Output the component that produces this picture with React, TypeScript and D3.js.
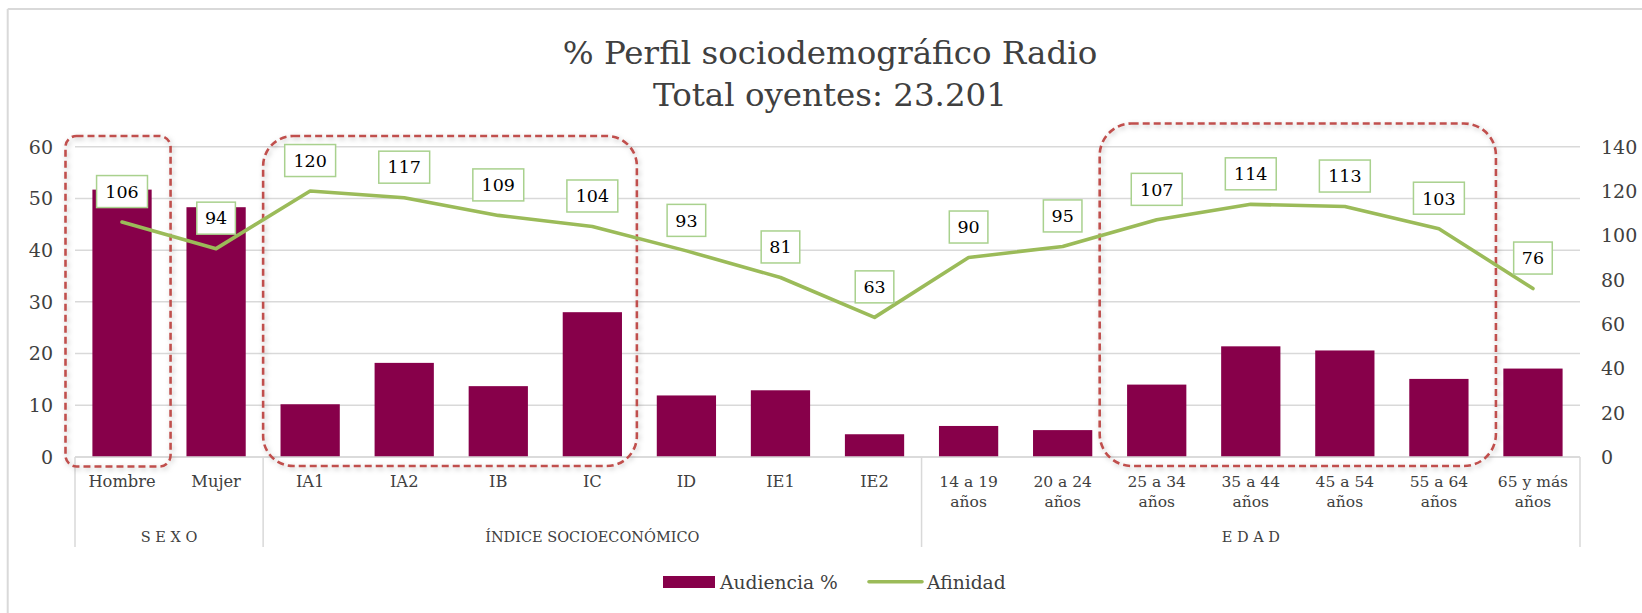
import React from "react";
import * as d3 from "d3";

const categories: string[][] = [
  ["Hombre"], ["Mujer"],
  ["IA1"], ["IA2"], ["IB"], ["IC"], ["ID"], ["IE1"], ["IE2"],
  ["14 a 19", "años"], ["20 a 24", "años"], ["25 a 34", "años"], ["35 a 44", "años"],
  ["45 a 54", "años"], ["55 a 64", "años"], ["65 y más", "años"],
];
const groupNames = ["S E X O", "ÍNDICE SOCIOECONÓMICO", "E D A D"];
const groupSizes = [2, 7, 7];
const audiencia = [51.7, 48.3, 10.2, 18.2, 13.7, 28.0, 11.9, 12.9, 4.4, 6.0, 5.2, 14.0, 21.4, 20.6, 15.1, 17.1];
const afinidad = [106, 94, 120, 117, 109, 104, 93, 81, 63, 90, 95, 107, 114, 113, 103, 76];
const leftTicks = [0, 10, 20, 30, 40, 50, 60];
const rightTicks = [0, 20, 40, 60, 80, 100, 120, 140];
const titleLines = ["% Perfil sociodemográfico Radio", "Total oyentes: 23.201"];
const seriesNames = ["Audiencia %", "Afinidad"];
// highlighted category ranges (first, last index)
const highlightRanges = [[0, 0], [2, 5], [11, 14]];

const FONT = "'DejaVu Serif', 'Liberation Serif', serif";
const BAR = "#87004A";
const LINE = "#9BBB59";
const GRID = "#D9D9D9";
const TXT = "#404040";

export default function App() {
  const W = 1642, H = 613;
  const x = d3.scaleBand<number>().domain(d3.range(categories.length)).range([75, 1580]).padding(0);
  const yL = d3.scaleLinear().domain([0, 60]).range([457, 146.7]);
  const yR = d3.scaleLinear().domain([0, 140]).range([457, 146.7]);
  const bw = x.bandwidth();
  const barW = bw * 0.63;
  const cx = (i: number) => (x(i) as number) + bw / 2;

  const line = d3.line<number>().x((_, i) => cx(i)).y((d) => yR(d));

  // group boundaries
  const bounds: number[] = [0];
  groupSizes.forEach((s, i) => bounds.push(bounds[i] + s));

  // highlight box geometry tweaks (style only)
  const boxStyle = [
    { padL: 9.5, padR: 1.5, top: 136, bottom: 466.5, r: 11 },
    { padL: 0, padR: -2.5, top: 136, bottom: 466, r: 30 },
    { padL: 10, padR: 10, top: 123.5, bottom: 466, r: 32 },
  ];

  return (
    <svg width={W} height={H} style={{ position: "absolute", left: 0, top: 0, background: "#fff" }} fontFamily={FONT}>
      <defs>
        <filter id="sh" x="-10%" y="-10%" width="120%" height="120%">
          <feDropShadow dx="1.5" dy="2" stdDeviation="2.5" floodColor="#000" floodOpacity="0.25" />
        </filter>
      </defs>
      <rect x={0} y={0} width={W} height={H} fill="#fff" />
      {/* chart border */}
      <line x1={7.7} y1={9} x2={W} y2={9} stroke={GRID} strokeWidth={2} />
      <line x1={7.7} y1={9} x2={7.7} y2={H} stroke={GRID} strokeWidth={2} />

      {/* title */}
      {titleLines.map((t, i) => (
        <text key={i} x={830} y={64 + i * 42} textAnchor="middle" fontSize={32.5} fill={TXT}>{t}</text>
      ))}

      {/* gridlines */}
      {leftTicks.map((t) => (
        <line key={t} x1={75} x2={1580} y1={yL(t)} y2={yL(t)} stroke={GRID} strokeWidth={1.5} />
      ))}

      {/* left ticks */}
      {leftTicks.map((t) => (
        <text key={t} x={53} y={yL(t)} dy="0.36em" textAnchor="end" fontSize={19} fill={TXT}>{t}</text>
      ))}
      {/* right ticks */}
      {rightTicks.map((t) => (
        <text key={t} x={1601} y={yR(t)} dy="0.36em" textAnchor="start" fontSize={19} fill={TXT}>{t}</text>
      ))}

      {/* bars */}
      {audiencia.map((v, i) => (
        <rect key={i} x={cx(i) - barW / 2} y={yL(v)} width={barW} height={yL(0) - yL(v)} fill={BAR} />
      ))}

      {/* category axis */}
      <line x1={75} x2={1580} y1={457} y2={457} stroke={GRID} strokeWidth={1.5} />
      {bounds.map((b, i) => {
        const bx = b < categories.length ? (x(b) as number) : 1580;
        return <line key={i} x1={bx} x2={bx} y1={457} y2={547} stroke={GRID} strokeWidth={1.5} />;
      })}
      {categories.map((lines, i) => (
        <text key={i} x={cx(i)} y={487} textAnchor="middle" fontSize={lines.length > 1 ? 15.5 : 16.3} fill={TXT}>
          {lines.map((l, j) => (
            <tspan key={j} x={cx(i)} dy={j === 0 ? 0 : 20}>{l}</tspan>
          ))}
        </text>
      ))}
      {groupNames.map((g, i) => {
        const x0 = x(bounds[i]) as number;
        const x1 = bounds[i + 1] < categories.length ? (x(bounds[i + 1]) as number) : 1580;
        return (
          <text key={i} x={(x0 + x1) / 2} y={542} textAnchor="middle" fontSize={14.5} fill={TXT}>{g}</text>
        );
      })}

      {/* highlight boxes */}
      {highlightRanges.map(([a, b], i) => {
        const s = boxStyle[i];
        const x0 = (x(a) as number) - s.padL;
        const x1 = (x(b) as number) + bw + s.padR;
        return (
          <rect key={i} x={x0} y={s.top} width={x1 - x0} height={s.bottom - s.top} rx={s.r} ry={s.r}
            fill="none" stroke="#C0504D" strokeWidth={2.6} strokeDasharray="7 4" filter="url(#sh)" />
        );
      })}

      {/* affinity line */}
      <path d={line(afinidad) || ""} fill="none" stroke={LINE} strokeWidth={3.6} strokeLinejoin="round" strokeLinecap="round" />

      {/* data labels */}
      {afinidad.map((v, i) => {
        const s = String(v);
        const w = 14 + s.length * 12.3;
        const py = yR(v);
        const bh = 32;
        const by = py - 14.5 - bh;
        return (
          <g key={i}>
            <rect x={cx(i) - w / 2} y={by} width={w} height={bh} fill="#fff" stroke="#A9D18E" strokeWidth={1.5} />
            <text x={cx(i)} y={by + bh / 2} dy="0.36em" textAnchor="middle" fontSize={17.5} fill="#000">{s}</text>
          </g>
        );
      })}

      {/* legend */}
      <rect x={663} y={576} width={52} height={12} fill={BAR} />
      <text x={720} y={588.5} fontSize={18.7} fill={TXT}>{seriesNames[0]}</text>
      <line x1={869} x2={922} y1={581.7} y2={581.7} stroke={LINE} strokeWidth={3.6} strokeLinecap="round" />
      <text x={927} y={588.5} fontSize={18.7} fill={TXT}>{seriesNames[1]}</text>
    </svg>
  );
}
